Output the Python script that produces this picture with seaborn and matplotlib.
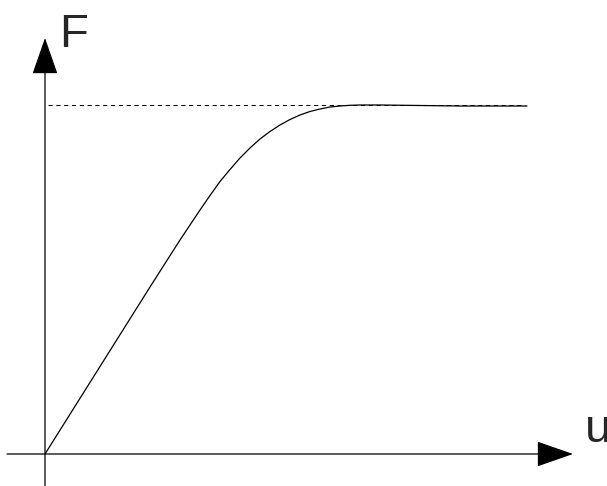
import matplotlib
matplotlib.use("Agg")
import matplotlib.pyplot as plt
import seaborn as sns
import pandas as pd

# data
u = [0.0, 0.55, 1.05, 1.35, 1.45, 1.55, 1.65, 1.75, 1.85, 1.95, 2.05,
     2.15, 2.25, 2.35, 2.45, 2.55, 2.65, 2.75, 2.85, 2.95, 3.05, 3.15,
     3.35, 3.75, 4.15, 4.55, 4.82]
F = [0.0, 0.875, 1.67, 2.14, 2.29, 2.44, 2.585, 2.725, 2.845, 2.96, 3.06,
     3.15, 3.225, 3.29, 3.345, 3.39, 3.425, 3.45, 3.47, 3.48, 3.487, 3.49,
     3.49, 3.485, 3.48, 3.48, 3.48]
F_limit = 3.495
limit_u = [0.03, 4.80]
x_label = "u"
y_label = "F"

sns.set_style("white")
plt.rcParams['font.family'] = ['Liberation Sans', 'DejaVu Sans']

fig = plt.figure(figsize=(6.07, 4.86), dpi=100)
ax = fig.add_axes([0, 0, 1, 1])
ax.set_xlim(-0.45, 5.62)
ax.set_ylim(-0.32, 4.54)
ax.set_axis_off()

df = pd.DataFrame({"u": u, "F": F})
sns.lineplot(data=df, x="u", y="F", ax=ax, color="black", lw=0.9, sort=False)

ax.plot(limit_u, [F_limit, F_limit], color="black", lw=0.75,
        linestyle=(0, (4, 3.5)))

arrow = dict(arrowstyle="-|>,head_length=23.5,head_width=8.2",
             color="black", lw=0.9, shrinkA=0, shrinkB=0, mutation_scale=1)
# y axis
ax.annotate("", xy=(0.0, 4.16), xytext=(0.0, -0.32), arrowprops=arrow)
# x axis
ax.annotate("", xy=(5.28, 0.0), xytext=(-0.38, 0.0), arrowprops=arrow)

ax.text(0.145, 4.07, y_label, fontsize=34, ha="left", va="baseline")
ax.text(5.40, 0.12, x_label, fontsize=34, ha="left", va="baseline")

fig.savefig("out.png", dpi=100)
